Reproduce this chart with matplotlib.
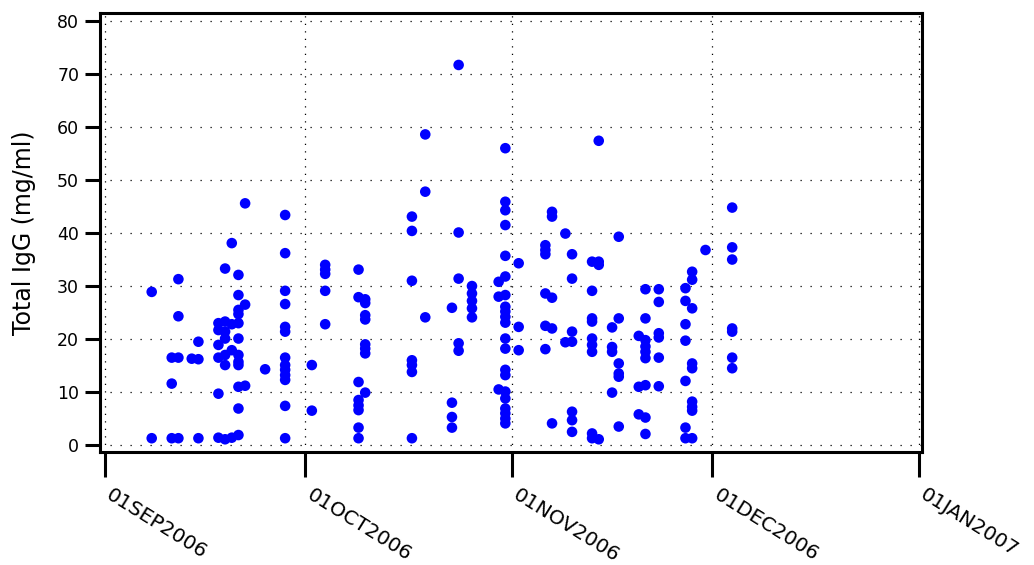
import numpy as np
import matplotlib
matplotlib.use("Agg")
import matplotlib.pyplot as plt
import matplotlib.dates as mdates
from datetime import datetime

# Collection dates and the Total IgG results measured on each date
sample_days = [
    "2006-09-08", "2006-09-11", "2006-09-12", "2006-09-14", "2006-09-15",
    "2006-09-18", "2006-09-19", "2006-09-20", "2006-09-21", "2006-09-22",
    "2006-09-25", "2006-09-28", "2006-10-02", "2006-10-04", "2006-10-09",
    "2006-10-10", "2006-10-17", "2006-10-19", "2006-10-23", "2006-10-24",
    "2006-10-26", "2006-10-30", "2006-10-31", "2006-11-02", "2006-11-06",
    "2006-11-07", "2006-11-09", "2006-11-10", "2006-11-13", "2006-11-14",
    "2006-11-16", "2006-11-17", "2006-11-20", "2006-11-21", "2006-11-23",
    "2006-11-27", "2006-11-28", "2006-11-30", "2006-12-04",
]

igg_by_day = [
    [28.9, 1.3],
    [16.5, 11.6, 1.3],
    [31.3, 24.3, 16.5, 1.3],
    [16.3],
    [19.5, 16.2, 1.3],
    [23.0, 21.7, 18.9, 16.5, 9.7, 1.4],
    [33.3, 23.3, 21.4, 20.1, 17.0, 15.1, 1.1],
    [38.1, 22.8, 17.9, 1.4],
    [32.1, 28.3, 25.5, 24.7, 23.0, 20.1, 17.0, 15.7, 15.1, 11.0, 6.9, 1.9],
    [45.6, 26.5, 11.2],
    [14.3],
    [43.4, 36.2, 29.1, 26.6, 22.3, 21.4, 16.5, 15.1, 14.2, 13.2, 12.3, 7.4, 1.3],
    [15.1, 6.5],
    [34.0, 33.1, 32.3, 29.1, 22.8],
    [33.1, 27.9, 11.9, 8.5, 7.5, 6.6, 3.3, 1.3],
    [27.5, 26.8, 24.5, 23.7, 19.0, 18.2, 17.3, 9.9],
    [43.1, 40.4, 31.0, 16.0, 15.1, 13.8, 1.3],
    [58.6, 47.8, 24.1],
    [25.9, 8.0, 5.3, 3.3],
    [71.7, 40.1, 31.4, 19.2, 17.8],
    [30.0, 28.6, 27.2, 25.8, 24.1],
    [30.8, 28.0, 10.5],
    [56.0, 45.9, 44.3, 41.5, 35.7, 31.8, 28.3, 26.1, 25.2, 24.2, 23.1, 20.1,
     18.2, 14.2, 13.2, 10.1, 8.8, 6.9, 6.0, 5.0, 4.1],
    [34.3, 22.3, 17.9],
    [37.7, 36.8, 36.0, 28.6, 22.5, 18.1],
    [44.0, 43.1, 27.8, 22.0, 4.1],
    [39.9, 19.4],
    [36.0, 31.4, 21.4, 19.5, 6.3, 4.7, 2.5],
    [34.6, 29.1, 23.9, 23.3, 20.1, 18.9, 17.6, 2.2, 1.3],
    [57.4, 34.6, 34.0, 1.1],
    [22.2, 18.5, 17.6, 9.9],
    [39.3, 23.9, 15.4, 13.5, 12.9, 3.5],
    [20.6, 11.0, 5.8],
    [29.4, 23.9, 19.8, 18.6, 17.6, 16.4, 11.3, 5.2, 2.1],
    [29.4, 27.0, 21.1, 20.3, 16.5, 11.1],
    [29.6, 27.2, 22.8, 19.7, 12.1, 3.3, 1.3],
    [32.7, 31.2, 25.8, 15.4, 14.5, 8.2, 7.2, 6.5, 1.3],
    [36.8],
    [44.8, 37.3, 35.0, 22.0, 21.4, 16.5, 14.5],
]

month_ticks = ["2006-09-01", "2006-10-01", "2006-11-01", "2006-12-01", "2007-01-01"]
month_labels = ["01SEP2006", "01OCT2006", "01NOV2006", "01DEC2006", "01JAN2007"]
y_ticks = [0, 10, 20, 30, 40, 50, 60, 70, 80]

plt.rcParams["font.family"] = ["DejaVu Sans"]

# Flatten into one point per measurement
xs, ys = [], []
for day, vals in zip(sample_days, igg_by_day):
    d = datetime.strptime(day, "%Y-%m-%d")
    for v in vals:
        xs.append(d)
        ys.append(v)
xnum = mdates.date2num(xs)

fig = plt.figure(figsize=(10.34, 5.65), dpi=100)
ax = fig.add_axes([100 / 1034, 1 - 452 / 565, 822 / 1034, 439 / 565])

tick_dates = [datetime.strptime(t, "%Y-%m-%d") for t in month_ticks]
tick_num = mdates.date2num(tick_dates)

# dotted reference grid
for yv in y_ticks:
    ax.axhline(yv, color="black", lw=0.9, ls=(0, (1, 7)), zorder=1)
for xv in tick_num:
    ax.axvline(xv, color="black", lw=0.9, ls=(0, (1, 5)), zorder=1)

ax.scatter(xnum, ys, s=58, color="#0000ff", edgecolors="none", zorder=3)

ax.set_xlim(tick_num[0] - 0.75, tick_num[-1] + 0.45)
ax.set_ylim(-1.3, 81.5)

ax.set_yticks(y_ticks)
ax.set_yticklabels([str(v) for v in y_ticks], fontsize=12.5)
ax.set_xticks(tick_num)
ax.set_xticklabels(month_labels, fontsize=14.5, rotation=-32,
                   ha="left", va="baseline", rotation_mode="anchor")

for sp in ax.spines.values():
    sp.set_linewidth(2.2)
ax.tick_params(axis="y", length=11, width=2.2, pad=4)
ax.tick_params(axis="x", length=18, width=2.2, pad=15)

ax.set_ylabel("Total IgG (mg/ml)", fontsize=17, labelpad=15)

fig.savefig("out.png", dpi=100)
